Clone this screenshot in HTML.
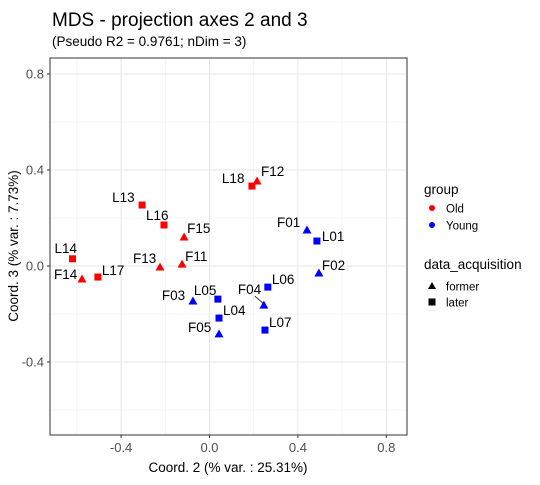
<!DOCTYPE html>
<html><head><meta charset="utf-8"><style>
body{margin:0;background:#fff;font-family:"Liberation Sans",Arial,sans-serif}
svg text{font-family:"Liberation Sans",Arial,sans-serif}
</style></head><body>
<svg id="chart" width="540" height="480">
<text x="52" y="26" font-size="19" fill="#000">MDS - projection axes 2 and 3</text>
<text x="52" y="46" font-size="13.5" fill="#000">(Pseudo R2 = 0.9761; nDim = 3)</text>
<g id="grid"></g>
<g id="pts"></g>
<rect x="50" y="58" width="357" height="377" fill="none" stroke="#333" stroke-width="1"/>
<text x="228" y="472" font-size="13.5" text-anchor="middle">Coord. 2 (% var. : 25.31%)</text>
<text transform="translate(18,246) rotate(-90)" font-size="13.5" text-anchor="middle">Coord. 3 (% var. : 7.73%)</text>
<g>
<text x="424" y="194" font-size="13.5">group</text>
<circle cx="432" cy="208" r="3" fill="#f00"/>
<text x="446" y="212.5" font-size="11.5">Old</text>
<circle cx="432" cy="225" r="3" fill="#00f"/>
<text x="446" y="229.5" font-size="11.5">Young</text>
<text x="424" y="269" font-size="13.5">data_acquisition</text>
<polygon points="432,282 436,289 428,289" fill="#000"/>
<text x="446" y="290.5" font-size="11.5">former</text>
<rect x="428.5" y="298.5" width="7" height="7" fill="#000"/>
<text x="446" y="306.5" font-size="11.5">later</text>
</g>
</svg>
<script>
const labels=["L14","F14","L17","L13","L16","F13","F15","F11","L18","F12","F01","L01","F02","L06","F04","L05","F03","L04","F05","L07"];
const xVals=[-0.62,-0.577,-0.505,-0.305,-0.206,-0.224,-0.115,-0.124,0.192,0.215,0.441,0.486,0.495,0.264,0.246,0.038,-0.075,0.043,0.043,0.251];
const yVals=[0.03,-0.054,-0.046,0.254,0.171,-0.004,0.121,0.008,0.333,0.354,0.150,0.104,-0.029,-0.088,-0.163,-0.138,-0.146,-0.217,-0.283,-0.267];
const groups=["Old","Old","Old","Old","Old","Old","Old","Old","Old","Old","Young","Young","Young","Young","Young","Young","Young","Young","Young","Young"];
const xTicks=[-0.4,0,0.4,0.8];
const yTicks=[-0.4,0,0.4,0.8];
const xTickLabels=["-0.4","0.0","0.4","0.8"];
const yTickLabels=["-0.4","0.0","0.4","0.8"];
const lblDx=[-18,-28,4,-30,-18,-27,3,3,-30,4,-30,5,3,4,-26,-24,-31,4,-31,4];
const lblDy=[-6,0,-2,-3,-5,-4,-4,-3,-3,-5,-3,0,-3,-3,-11,-4,-1,-3,-2,-3];
const X=v=>209.5+v*221, Y=v=>266-v*240;
const ns="http://www.w3.org/2000/svg";
const grid=document.getElementById('grid'), pts=document.getElementById('pts');
function mk(t,a,p){const e=document.createElementNS(ns,t);for(const k in a)e.setAttribute(k,a[k]);p.appendChild(e);return e;}
for(let v=-0.6;v<=0.81;v+=0.2){const x=X(v);
 const l=mk('line',{x1:x,x2:x,y1:58,y2:435,stroke:Math.abs(Math.round(v*10)%4)===2?'#f0f0f0':'#e6e6e6','stroke-width':Math.abs(Math.round(v*10)%4)===2?0.6:1},grid);
 
 }
for(let v=-0.6;v<=0.81;v+=0.2){const y=Y(v);
 const l=mk('line',{x1:50,x2:407,y1:y,y2:y,stroke:Math.abs(Math.round(v*10)%4)===2?'#f0f0f0':'#e6e6e6','stroke-width':Math.abs(Math.round(v*10)%4)===2?0.6:1},grid);
 
 }
xTicks.forEach((v,i)=>{const x=X(v);
 mk('line',{x1:x,x2:x,y1:435,y2:438,stroke:'#333'},grid);
 const t=mk('text',{x:x,y:452,'font-size':13,'text-anchor':'middle',fill:'#4d4d4d'},grid);t.textContent=xTickLabels[i];
 
 });
yTicks.forEach((v,i)=>{const y=Y(v);
 mk('line',{x1:47,x2:50,y1:y,y2:y,stroke:'#333'},grid);
 const t=mk('text',{x:44,y:y+4.5,'font-size':13,'text-anchor':'end',fill:'#4d4d4d'},grid);t.textContent=yTickLabels[i];
 
 });
labels.forEach((lb,i)=>{
 const x=X(xVals[i]),y=Y(yVals[i]);const c=groups[i]==='Old'?'#f00':'#00f';let e;
 if(lb[0]==='F') e=mk('polygon',{points:`${x},${y-4.5} ${x+4.5},${y+3.5} ${x-4.5},${y+3.5}`,fill:c},pts);
 else e=mk('rect',{x:x-3.5,y:y-3.5,width:7,height:7,fill:c},pts);
 
 
 if(lb==='F04'){const s=mk('line',{x1:x-9,y1:y-9,x2:x-1,y2:y-2,stroke:'#000','stroke-width':0.8},pts);
  
  }
 const t=mk('text',{x:x+lblDx[i],y:y+lblDy[i],'font-size':13.5,fill:'#000'},pts);t.textContent=lb;
 
 
});
</script>
</body></html>
